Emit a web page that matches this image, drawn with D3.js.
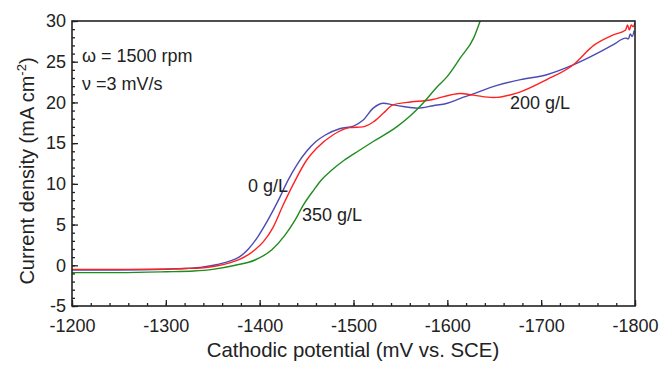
<!DOCTYPE html>
<html>
<head>
<meta charset="utf-8">
<script src="https://cdn.jsdelivr.net/npm/d3@7"></script>
<style>
  body { margin: 0; background: #fff; }
  svg { font-family: "Liberation Sans", Arial, sans-serif; }
</style>
</head>
<body>
<svg id="chart" width="666" height="365"></svg>
<script>
// potentials (mV vs SCE) and current densities (mA cm-2)
const pot0 = [-1200, -1250, -1300, -1320, -1340, -1355, -1368, -1378, -1388, -1398, -1409, -1420, -1430, -1440, -1450, -1460, -1470, -1486, -1500, -1510, -1521, -1532, -1542, -1553, -1568, -1585, -1600, -1614, -1624, -1653, -1678, -1706, -1734, -1756, -1777, -1790, -1793, -1795, -1797, -1799];
const cur0 = [-0.6, -0.6, -0.5, -0.4, -0.2, 0.1, 0.5, 1.0, 2.0, 3.5, 5.6, 8.0, 10.4, 12.4, 14.0, 15.2, 16.0, 16.8, 17.1, 17.8, 19.3, 19.9, 19.7, 19.5, 19.3, 19.6, 19.9, 20.5, 20.9, 22.1, 22.8, 23.4, 24.6, 25.8, 27.1, 27.9, 27.8, 28.4, 28.1, 28.8];

const pot200 = [-1200, -1250, -1300, -1320, -1340, -1355, -1368, -1378, -1388, -1395, -1404, -1414, -1425, -1436, -1450, -1461, -1478, -1496, -1510, -1521, -1532, -1542, -1557, -1582, -1614, -1628, -1649, -1678, -1706, -1734, -1756, -1777, -1790, -1792, -1794, -1796, -1798, -1800];
const cur200 = [-0.5, -0.5, -0.45, -0.4, -0.3, -0.05, 0.3, 0.7, 1.3, 1.9, 2.9, 4.6, 7.4, 10.0, 12.9, 14.4, 16.0, 16.9, 17.0, 17.6, 18.7, 19.7, 20.0, 20.3, 21.1, 20.9, 20.6, 21.3, 22.8, 24.6, 27.0, 28.3, 28.9, 29.5, 28.9, 29.5, 29.3, 29.8];

const pot350 = [-1200, -1250, -1300, -1330, -1350, -1374, -1395, -1413, -1427, -1438, -1446, -1458, -1466, -1476, -1490, -1506, -1521, -1546, -1560, -1574, -1589, -1600, -1614, -1628, -1635];
const cur350 = [-0.9, -0.9, -0.8, -0.7, -0.5, 0.0, 0.65, 1.9, 3.7, 5.6, 7.3, 9.3, 10.5, 11.6, 12.9, 14.1, 15.2, 17.0, 18.3, 19.9, 21.9, 23.2, 25.5, 27.9, 30];

const series = [
  { name: "0 g/L", x: pot0, y: cur0, color: "#4b4bb4" },
  { name: "200 g/L", x: pot200, y: cur200, color: "#ff2020" },
  { name: "350 g/L", x: pot350, y: cur350, color: "#1e8c1e" }
];

const xTicks = [-1200, -1300, -1400, -1500, -1600, -1700, -1800];
const yTicks = [-5, 0, 5, 10, 15, 20, 25, 30];

const mLeft = 72, mRight = 635, mTop = 21, mBottom = 306;
const svg = d3.select("#chart");

const x = d3.scaleLinear().domain([-1200, -1800]).range([mLeft, mRight]);
const y = d3.scaleLinear().domain([-5, 30]).range([mBottom, mTop]);

// curves
const line = d3.line()
    .x(d => x(d[0]))
    .y(d => y(d[1]))
    .curve(d3.curveMonotoneX);

svg.append("defs").append("clipPath").attr("id", "clip")
    .append("rect").attr("x", mLeft).attr("y", mTop)
    .attr("width", mRight - mLeft).attr("height", mBottom - mTop);

series.forEach(s => {
    svg.append("path")
        .datum(s.x.map((v, i) => [v, s.y[i]]))
        .attr("d", line)
        .attr("clip-path", "url(#clip)")
        .attr("fill", "none")
        .attr("stroke", s.color)
        .attr("stroke-width", 1.4);
});

// axes, ticks pointing inward
const xAxis = d3.axisBottom(x).tickValues(xTicks).tickSize(-6).tickPadding(13).tickFormat(d => String(d));
const xMinor = d3.axisBottom(x).tickValues(d3.range(-1200, -1801, -20)).tickSize(-3).tickFormat("");
const yAxis = d3.axisLeft(y).tickValues(yTicks).tickSize(-6).tickPadding(6).tickFormat(d => String(d));
const yMinor = d3.axisLeft(y).tickValues(d3.range(-5, 30.1, 1)).tickSize(-3).tickFormat("");

svg.append("g").attr("transform", `translate(0,${mBottom})`).call(xMinor);
svg.append("g").attr("transform", `translate(${mLeft},0)`).call(yMinor);
const gx = svg.append("g").attr("transform", `translate(0,${mBottom})`).call(xAxis);
const gy = svg.append("g").attr("transform", `translate(${mLeft},0)`).call(yAxis);

svg.selectAll(".domain").remove();
svg.selectAll(".tick line").attr("stroke", "#222").attr("stroke-width", 1.3);
gx.selectAll("text").attr("font-size", 18).attr("fill", "#222")
    .attr("font-family", "Liberation Sans, Arial, sans-serif");
gy.selectAll("text").attr("font-size", 18).attr("fill", "#222")
    .attr("font-family", "Liberation Sans, Arial, sans-serif");

// frame
svg.append("rect")
    .attr("x", mLeft).attr("y", mTop)
    .attr("width", mRight - mLeft).attr("height", mBottom - mTop)
    .attr("fill", "none").attr("stroke", "#222").attr("stroke-width", 1.6);

// axis titles
svg.append("text")
    .attr("x", 353).attr("y", 357)
    .attr("text-anchor", "middle").attr("font-size", 20.4).attr("fill", "#222")
    .text("Cathodic potential (mV vs. SCE)");

const yt = svg.append("text")
    .attr("transform", "translate(34,171) rotate(-90)")
    .attr("text-anchor", "middle").attr("font-size", 20).attr("fill", "#222");
yt.append("tspan").text("Current density (mA cm");
yt.append("tspan").attr("dy", -8).attr("font-size", 13).text("-2");
yt.append("tspan").attr("dy", 8).text(")");

// annotations
const notes = [
    { t: "\u03c9 = 1500 rpm", px: 82, py: 62 },
    { t: "\u03bd =3 mV/s", px: 82, py: 90 },
    { t: "0 g/L", px: 248, py: 192 },
    { t: "350 g/L", px: 302, py: 221 },
    { t: "200 g/L", px: 510, py: 109 }
];
notes.forEach(n => {
    svg.append("text")
        .attr("x", n.px).attr("y", n.py)
        .attr("font-size", 18).attr("fill", "#222")
        .text(n.t);
});
</script>
</body>
</html>
